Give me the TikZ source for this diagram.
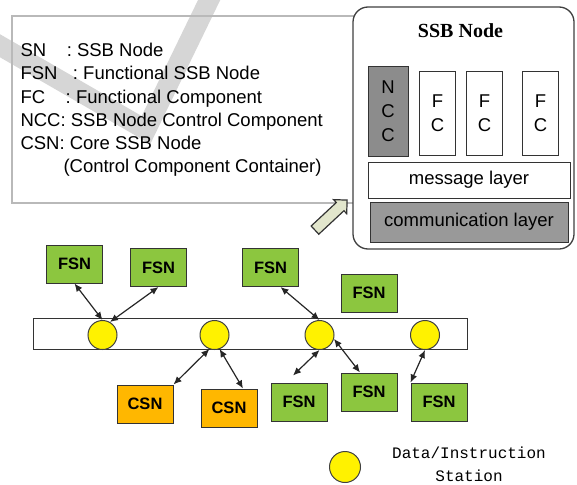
\documentclass[tikz,border=0pt]{standalone}
\usepackage{fontspec}
\setmainfont{Liberation Sans}
\newfontfamily\titlefont{Liberation Serif}
\newfontfamily\stationfont{Liberation Mono}
\usetikzlibrary{arrows.meta,shapes.arrows}
\definecolor{fsngreen}{RGB}{140,198,63}
\definecolor{csnorange}{RGB}{255,183,0}
\definecolor{hintfill}{RGB}{226,230,204}

\begin{document}
\begin{tikzpicture}[x=1pt,y=-1pt,line width=1pt,>={Latex[length=8pt,width=7pt]},
  fsn/.style={draw=black!80,fill=fsngreen,minimum width=56pt,minimum height=38pt,inner sep=0pt,font=\fontsize{16.5}{20}\selectfont\bfseries},
  csn/.style={fsn,fill=csnorange},
  station/.style={circle,draw=black!75,fill=yellow,minimum size=29pt,inner sep=0pt},
  comp/.style={draw=black!80,fill=white,minimum width=36pt,minimum height=83pt,inner sep=0pt,align=center,font=\fontsize{18.5}{24}\selectfont},
  layer/.style={draw=black!80,minimum width=202pt,minimum height=36pt,inner sep=0pt,font=\fontsize{18.5}{22}\selectfont},
  legend/.style={anchor=base west,inner sep=0pt,font=\fontsize{18.5}{22}\selectfont},
  link/.style={<->,line width=1.2pt,black!85}]
  \useasboundingbox (0,0) rectangle (577,484);
  % marca de agua
  \begin{scope}
    \clip (0,0) rectangle (577,484);
    \draw[gray!32,line width=20pt,miter limit=10] (-10,40) -- (146,130) -- (214,-10);
  \end{scope}
  % recuadro de abreviaturas
  \draw[gray!55,line width=1.8pt] (12,16) rectangle (362,203);
  \node[legend] (leg1) at (20,57) {SN~~~~: SSB Node};
  \node[legend] (leg2) at (20,80) {FSN~~~: Functional SSB Node};
  \node[legend] (leg3) at (20,103) {FC~~~~: Functional Component};
  \node[legend] (leg4) at (20,126) {NCC: SSB Node Control Component};
  \node[legend] (leg5) at (20,149.5) {CSN: Core SSB Node};
  \node[legend] (leg6) at (63,172.5) {(Control Component Container)};
  % nodo SSB
  \node[draw=black!75,fill=white,rounded corners=15pt,line width=1.3pt,minimum width=221pt,minimum height=242pt] (ssb) at (463.5,128) {};
  \node[font=\titlefont\fontsize{20}{22}\selectfont\bfseries] (title) at (460.5,31) {SSB Node};
  \node[comp,fill=gray!90,minimum width=40pt,minimum height=89pt] (ncc) at (388,111.5) {N\\C\\C};
  \node[comp] (fc1) at (437.5,113.5) {F\\C};
  \node[comp] (fc2) at (484.5,113.5) {F\\C};
  \node[comp] (fc3) at (540.5,113.5) {F\\C};
  \node[layer,fill=white] (msg) at (469,180) {message layer};
  \node[layer,fill=gray!80,minimum width=198pt,minimum height=40pt] (comm) at (469,222) {communication layer};
  % flecha hueca hacia el nodo
  \node[single arrow,draw=black!80,fill=hintfill,line width=1.2pt,inner sep=5pt,minimum height=44pt,single arrow head extend=4pt,rotate=43] (hint) at (329,217) {};
  % bus con estaciones
  \node[draw=black!80,fill=white,minimum width=434pt,minimum height=31pt,inner sep=0pt] (bus) at (250,333.5) {};
  \node[station] (st1) at (102.5,335) {};
  \node[station] (st2) at (214.5,335) {};
  \node[station] (st3) at (319.5,335) {};
  \node[station] (st4) at (425,335) {};
  % nodos funcionales y de nucleo
  \node[fsn] (fsn1) at (74.5,264) {FSN};
  \node[fsn] (fsn2) at (158.5,267.5) {FSN};
  \node[fsn] (fsn3) at (270.5,267.5) {FSN};
  \node[fsn] (fsn4) at (369,293) {FSN};
  \node[csn] (csn1) at (145,404) {CSN};
  \node[csn] (csn2) at (229,408) {CSN};
  \node[fsn] (fsn5) at (299,402) {FSN};
  \node[fsn] (fsn6) at (369,392) {FSN};
  \node[fsn] (fsn7) at (439,402) {FSN};
  % enlaces
  \draw[link] (fsn1.south) -- (st1.north);
  \draw[link] (fsn2.south) -- (st1.60);
  \draw[link] ([xshift=10pt]fsn3.south) -- (st3.north);
  \draw[link] (st2.250) -- (csn1.north east);
  \draw[link] (st2.290) -- ([xshift=14pt]csn2.north);
  \draw[link] (st3.south) -- ([shift={(-6pt,7pt)}]fsn5.north);
  \draw[link] (st3.-15) -- ([xshift=-9pt]fsn6.north);
  \draw[link] (st4.south) -- (fsn7.north west);
  % leyenda de la estacion
  \node[station,minimum size=31pt] (key) at (345,467) {};
  \node[align=center,inner sep=1pt,font=\stationfont\fontsize{16}{23}\selectfont] (keytext) at (469,464) {Data/Instruction\\Station};
\end{tikzpicture}
\end{document}
